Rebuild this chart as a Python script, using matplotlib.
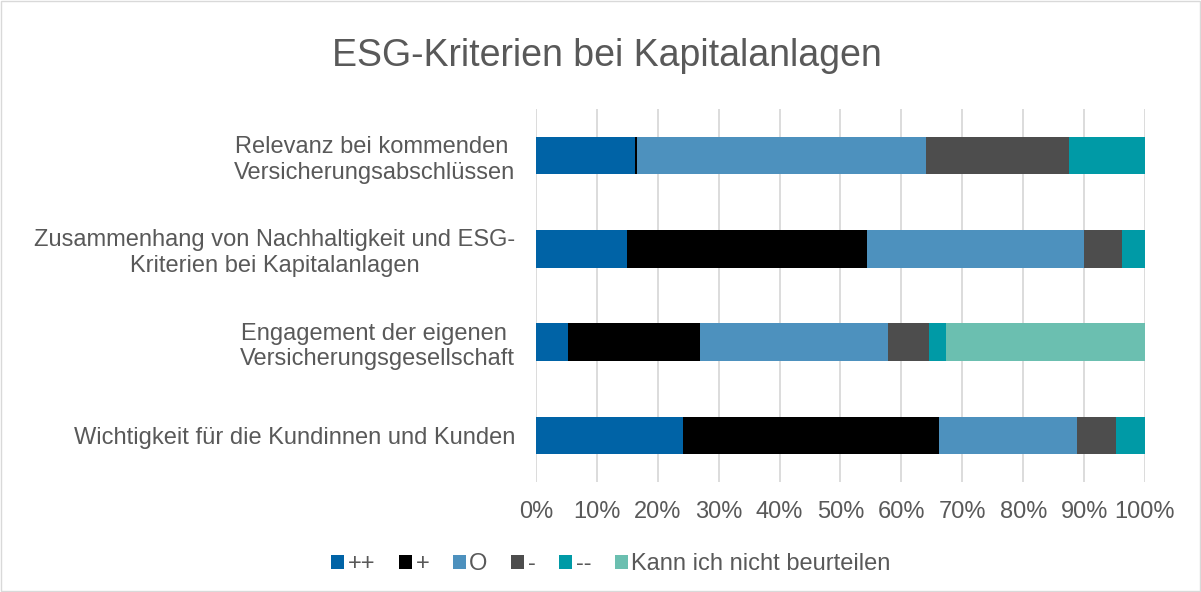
import matplotlib
matplotlib.use("Agg")
import matplotlib.pyplot as plt
from matplotlib.patches import Rectangle
from matplotlib.ticker import PercentFormatter
import numpy as np

plt.rcParams['font.family'] = ['Liberation Sans', 'DejaVu Sans']

categories = [
    "Relevanz bei kommenden \nVersicherungsabschlüssen",
    "Zusammenhang von Nachhaltigkeit und ESG-\nKriterien bei Kapitalanlagen",
    "Engagement der eigenen \nVersicherungsgesellschaft",
    "Wichtigkeit für die Kundinnen und Kunden",
]
series_names = ["++", "+", "O", "-", "--", "Kann ich nicht beurteilen"]
s_pp = [16.2, 15.0, 5.3, 24.1]
s_p = [0.4, 39.3, 21.6, 42.1]
s_o = [47.5, 35.7, 30.9, 22.6]
s_m = [23.5, 6.3, 6.7, 6.5]
s_mm = [12.4, 3.7, 2.9, 4.7]
s_k = [0.0, 0.0, 32.6, 0.0]
colors = ["#0063A6", "#000000", "#4D91BE", "#4D4D4D", "#009AA6", "#6BBFB0"]
xticks = [0, 10, 20, 30, 40, 50, 60, 70, 80, 90, 100]
title = "ESG-Kriterien bei Kapitalanlagen"

W, H = 1201, 592
fig = plt.figure(figsize=(W / 100, H / 100), dpi=100)
ax = fig.add_axes([536 / W, 1 - 482 / H, (1145 - 536) / W, (482 - 109) / H])

txt = "#595959"
y = np.arange(len(categories))
left = np.zeros(len(categories))
for name, vals, c in zip(series_names, [s_pp, s_p, s_o, s_m, s_mm, s_k], colors):
    v = np.array(vals)
    ax.barh(y, v, left=left, height=0.4, color=c, label=name, zorder=3)
    left += v

ax.set_ylim(len(categories) - 0.5, -0.5)
ax.set_xlim(0, 100)
ax.set_xticks(xticks)
ax.xaxis.set_major_formatter(PercentFormatter(decimals=0))
ax.set_yticks(y)
ax.set_yticklabels(categories)
for lab in ax.get_yticklabels():
    lab.set_multialignment('center')
ax.tick_params(axis='both', length=0, labelsize=17, colors=txt)
ax.tick_params(axis='y', pad=15)
ax.tick_params(axis='x', pad=14)
ax.grid(axis='x', color="#D9D9D9", linewidth=1.3, zorder=0)
for s in ax.spines.values():
    s.set_visible(False)

fig.text(607 / W, 1 - 56 / H, title, ha='center', va='center', fontsize=27, color=txt)

handles, labels = ax.get_legend_handles_labels()
leg = fig.legend(handles, labels, loc='center', bbox_to_anchor=(611 / W, 1 - 564 / H),
                 ncol=6, frameon=False, fontsize=17, handlelength=0.55, handleheight=0.55,
                 handletextpad=0.15, columnspacing=1.0, labelcolor=txt)

fig.patches.append(Rectangle((1 / W, 1 / H), 1 - 2 / W, 1 - 2 / H, transform=fig.transFigure,
                             fill=False, edgecolor="#D9D9D9", linewidth=1))

fig.savefig("out.png", dpi=100, facecolor="white")
